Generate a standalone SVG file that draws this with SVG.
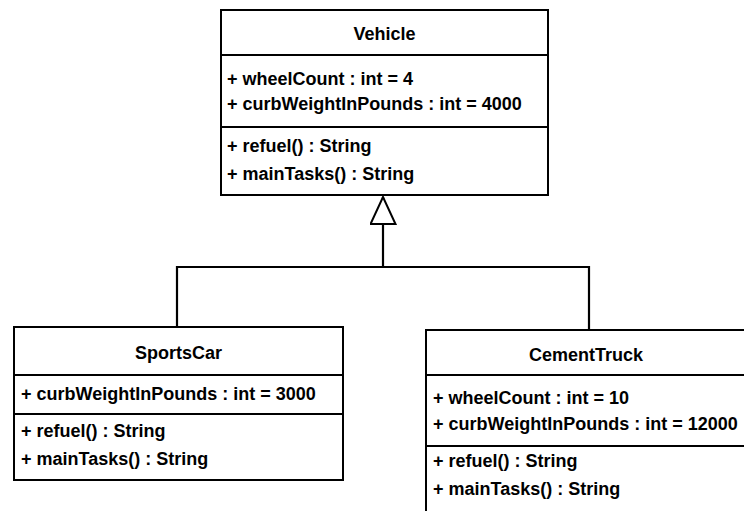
<svg xmlns="http://www.w3.org/2000/svg" width="744" height="511" viewBox="0 0 744 511">
<style>
.box{fill:#fff;stroke:#000;stroke-width:2}
.div{stroke:#000;stroke-width:2}
.t{font-family:"Liberation Sans",Arial,sans-serif;font-weight:bold;font-size:18px;fill:#000}
.c{text-anchor:middle}
.conn{fill:none;stroke:#000;stroke-width:2.2}
</style>
<defs>
<marker id="gen" markerUnits="userSpaceOnUse" markerWidth="30" markerHeight="28" viewBox="-1 -1 30 28" refX="27" refY="12.5" orient="auto">
<path d="M0,0 L27,12.5 L0,25 Z" fill="#fff" stroke="#000" stroke-width="2"/>
</marker>
</defs>
<rect width="744" height="511" fill="#fff"/>
<g id="connectors">
<path class="conn" d="M177,327 V267 H589 V330"/>
<path class="conn" d="M383,267 V197" marker-end="url(#gen)"/>
</g>
<g id="Vehicle">
<rect class="box" x="221" y="10" width="327" height="185"/>
<line class="div" x1="221" y1="55" x2="548" y2="55"/>
<line class="div" x1="221" y1="127" x2="548" y2="127"/>
<text class="t c" x="384.5" y="40">Vehicle</text>
<text class="t" x="227" y="85">+ wheelCount : int = 4</text>
<text class="t" x="227" y="110">+ curbWeightInPounds : int = 4000</text>
<text class="t" x="227" y="152">+ refuel() : String</text>
<text class="t" x="227" y="180">+ mainTasks() : String</text>
</g>
<g id="SportsCar">
<rect class="box" x="14" y="327" width="329" height="153"/>
<line class="div" x1="14" y1="375" x2="343" y2="375"/>
<line class="div" x1="14" y1="414" x2="343" y2="414"/>
<text class="t c" x="178.5" y="359">SportsCar</text>
<text class="t" x="21" y="400">+ curbWeightInPounds : int = 3000</text>
<text class="t" x="21" y="437">+ refuel() : String</text>
<text class="t" x="21" y="465">+ mainTasks() : String</text>
</g>
<g id="CementTruck">
<rect class="box" x="426" y="330" width="320" height="190"/>
<line class="div" x1="426" y1="375" x2="746" y2="375"/>
<line class="div" x1="426" y1="446" x2="746" y2="446"/>
<text class="t c" x="586" y="361">CementTruck</text>
<text class="t" x="433" y="404">+ wheelCount : int = 10</text>
<text class="t" x="433" y="430">+ curbWeightInPounds : int = 12000</text>
<text class="t" x="433" y="467">+ refuel() : String</text>
<text class="t" x="433" y="495">+ mainTasks() : String</text>
</g>
</svg>
